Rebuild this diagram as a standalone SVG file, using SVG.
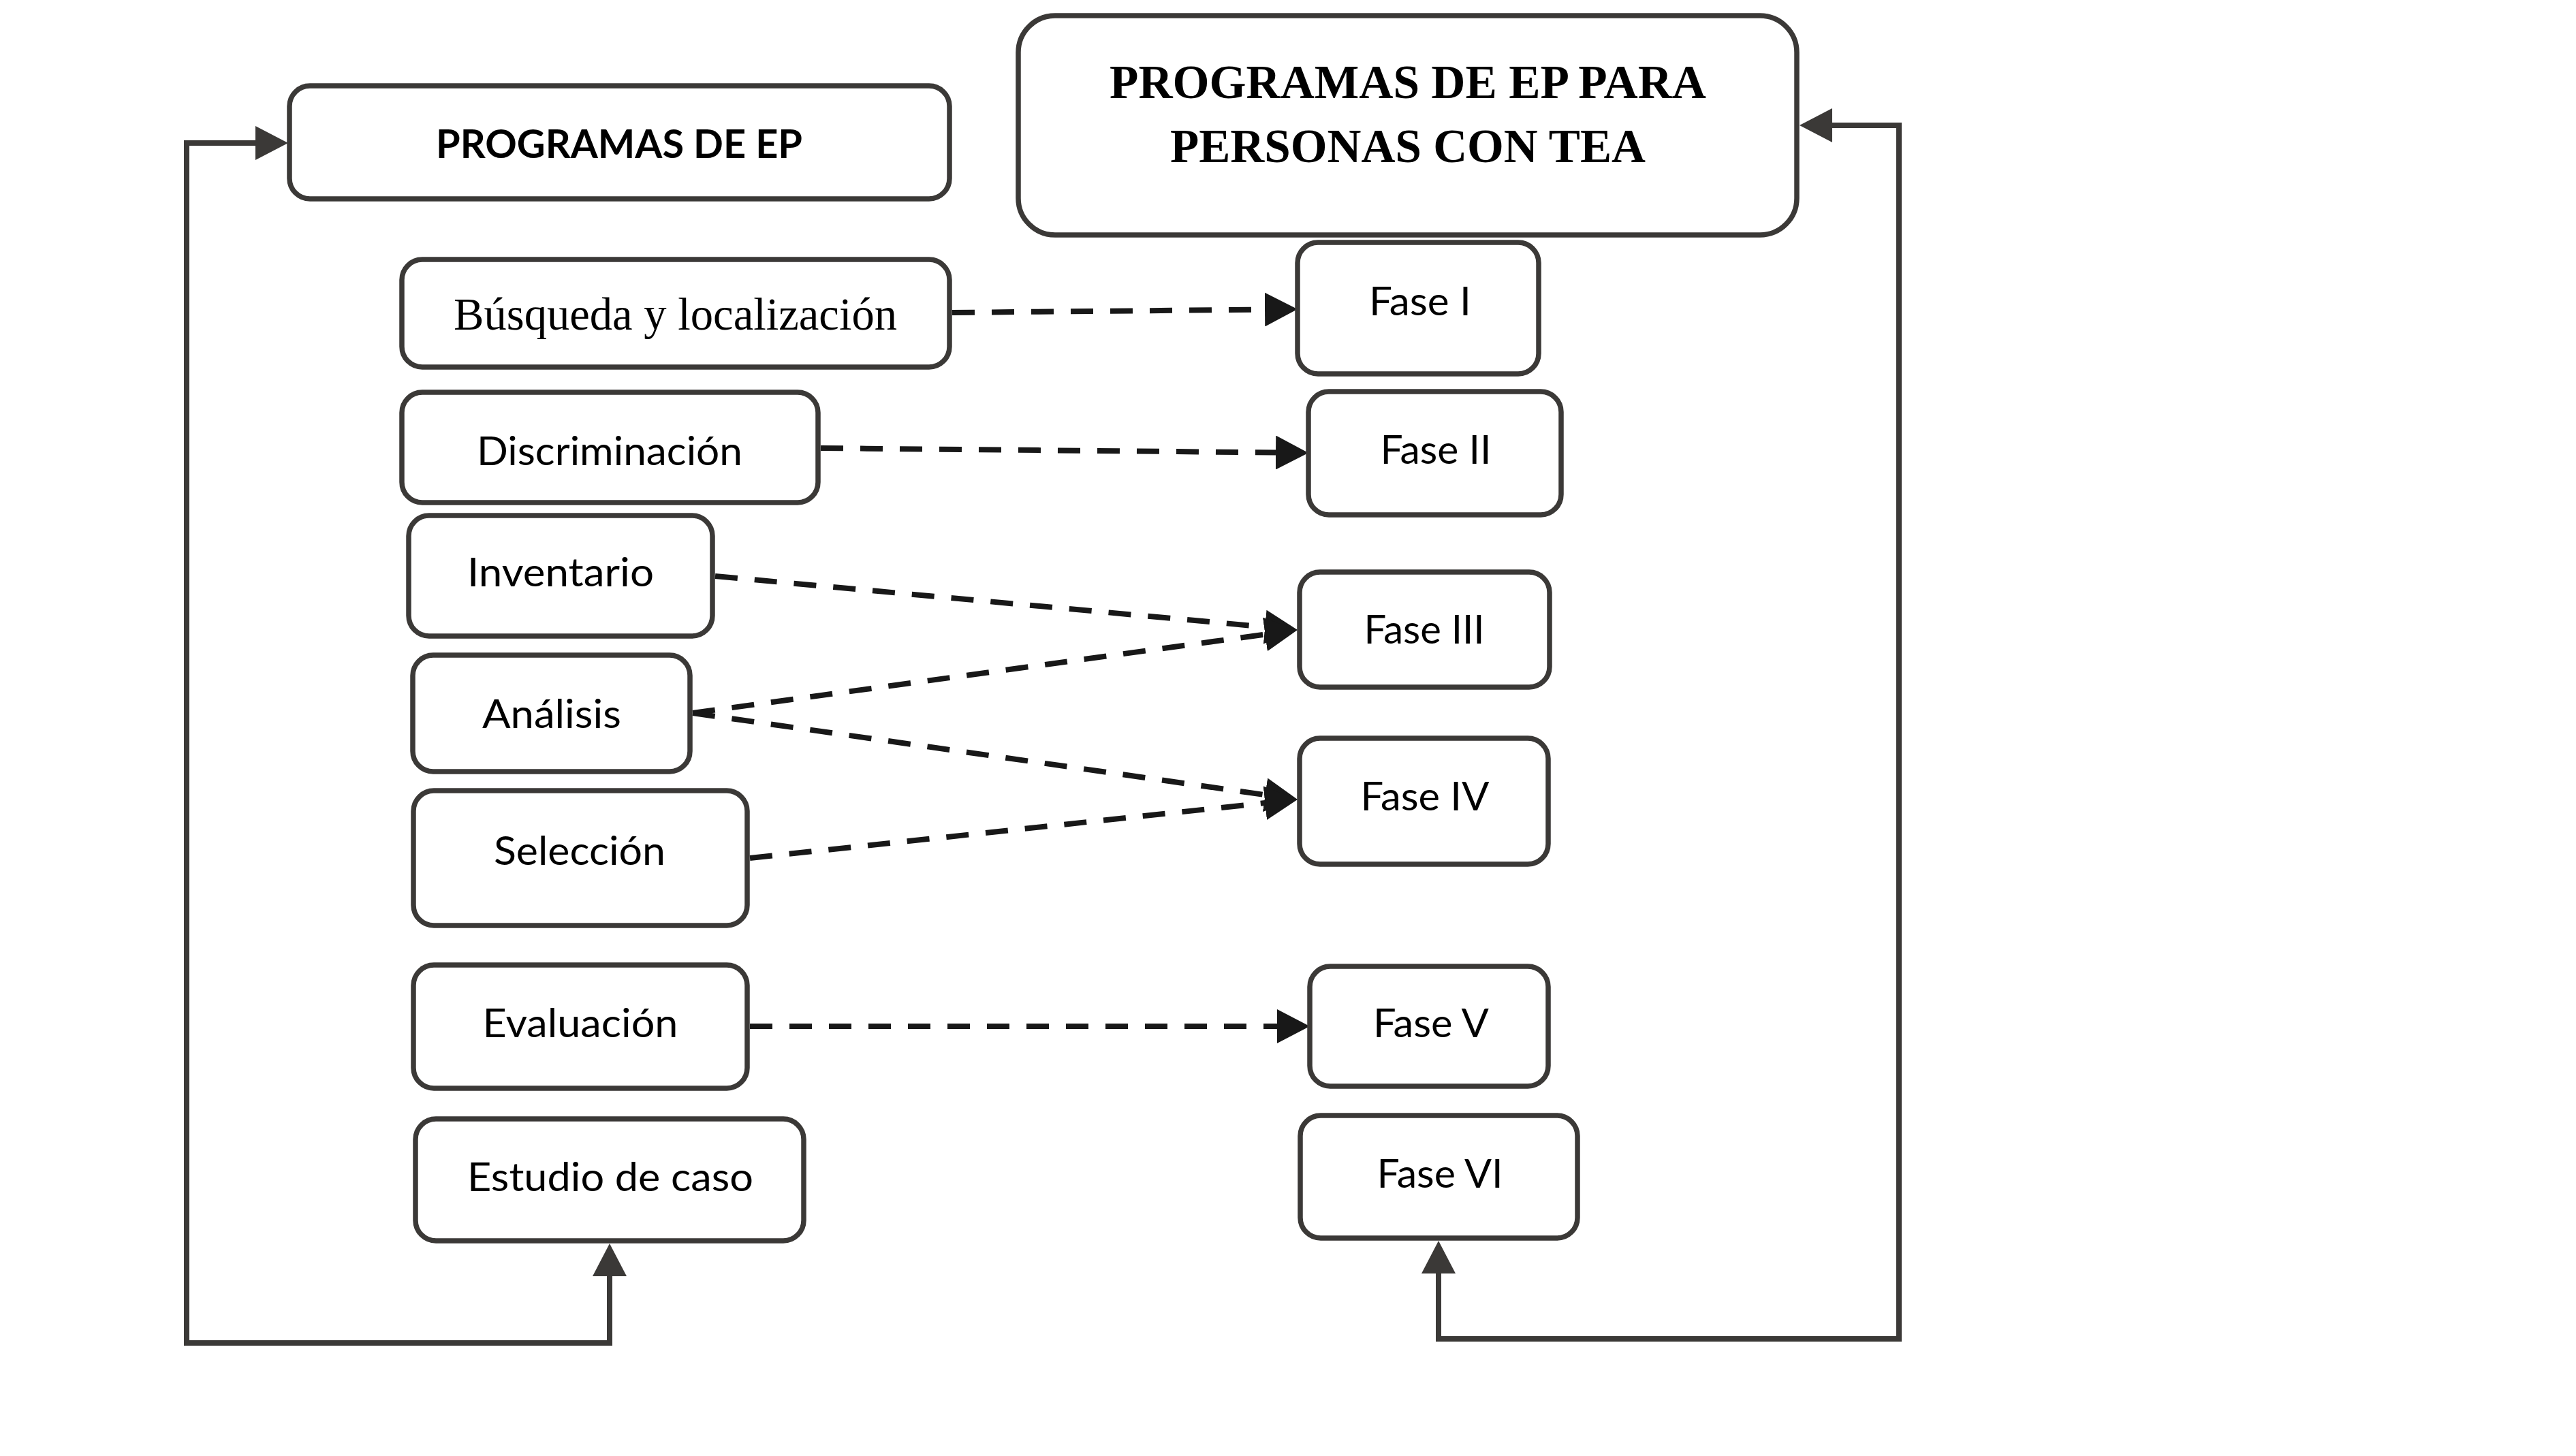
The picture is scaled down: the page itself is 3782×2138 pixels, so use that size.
<svg xmlns="http://www.w3.org/2000/svg" width="3782" height="2138" viewBox="0 0 3782 2138">
<style>
  .box { fill: #ffffff; stroke: #3b3937; stroke-width: 7.5; }
  .sans { font-family: Lato, "Open Sans", "Liberation Sans", sans-serif; font-size: 58px; fill: #000; text-anchor: middle; }
  .sansb { font-family: Lato, "Open Sans", "Liberation Sans", sans-serif; font-size: 58px; font-weight: bold; fill: #000; text-anchor: middle; }
  .serif { font-family: "Liberation Serif", "DejaVu Serif", serif; font-size: 67px; fill: #000; text-anchor: middle; }
  .serifb { font-family: "Liberation Serif", "DejaVu Serif", serif; font-size: 70px; font-weight: bold; fill: #000; text-anchor: middle; }
  .dash { fill: none; stroke: #181818; stroke-width: 8; stroke-dasharray: 33 25; marker-end: url(#arrD); }
  .loop { fill: none; stroke: #3b3937; stroke-width: 8; stroke-linejoin: miter; marker-start: url(#arrL); marker-end: url(#arrL); }
</style>
<defs>
  <marker id="arrD" markerUnits="userSpaceOnUse" viewBox="0 0 48 50" markerWidth="48" markerHeight="50" refX="0" refY="25" orient="auto">
    <path d="M0,0 L48,25 L0,50 Z" fill="#181818"/>
  </marker>
  <marker id="arrL" markerUnits="userSpaceOnUse" viewBox="0 0 48 50" markerWidth="48" markerHeight="50" refX="0" refY="25" orient="auto-start-reverse">
    <path d="M0,0 L48,25 L0,50 Z" fill="#3b3937"/>
  </marker>
</defs>
<rect width="3782" height="2138" fill="#ffffff"/>

<g id="connectors">
  <path class="loop" d="M375,210 L274,210 L274,1972 L895,1972 L895,1874"/>
  <path class="loop" d="M2690,184 L2788,184 L2788,1966 L2112,1966 L2112,1870"/>
  <path class="dash" d="M1398,459 L1857,454.5"/>
  <path class="dash" d="M1205,658 L1873,664.5"/>
  <path class="dash" d="M1050,846 L1857.2,920.6"/>
  <path class="dash" d="M1017,1047 L1857.4,931.5"/>
  <path class="dash" d="M1017,1047 L1857.5,1167.2"/>
  <path class="dash" d="M1101,1260 L1857.3,1179.1"/>
  <path class="dash" d="M1101,1507 L1875,1507"/>
</g>

<g id="programas-ep">
  <rect class="box" x="425" y="126" width="969" height="166" rx="30"/>
  <text class="sansb" x="909" y="232" textLength="538" lengthAdjust="spacingAndGlyphs">PROGRAMAS DE EP</text>
</g>
<g id="programas-tea">
  <rect class="box" x="1495" y="23" width="1143" height="322" rx="54"/>
  <text class="serifb" x="2067" y="144" textLength="876" lengthAdjust="spacingAndGlyphs">PROGRAMAS DE EP PARA</text>
  <text class="serifb" x="2067" y="238" textLength="698" lengthAdjust="spacingAndGlyphs">PERSONAS CON TEA</text>
</g>
<g id="busqueda">
  <rect class="box" x="590" y="381" width="804" height="158" rx="30"/>
  <text class="serif" x="991.5" y="484" textLength="651" lengthAdjust="spacingAndGlyphs">Búsqueda y localización</text>
</g>
<g id="discriminacion">
  <rect class="box" x="590" y="576" width="611" height="162" rx="30"/>
  <text class="sans" x="895" y="683" textLength="390" lengthAdjust="spacingAndGlyphs">Discriminación</text>
</g>
<g id="inventario">
  <rect class="box" x="600" y="757" width="446" height="177" rx="30"/>
  <text class="sans" x="823" y="861" textLength="274" lengthAdjust="spacingAndGlyphs">Inventario</text>
</g>
<g id="analisis">
  <rect class="box" x="606" y="962" width="407" height="171" rx="30"/>
  <text class="sans" x="810" y="1069" textLength="204" lengthAdjust="spacingAndGlyphs">Análisis</text>
</g>
<g id="seleccion">
  <rect class="box" x="607" y="1161" width="490" height="198" rx="30"/>
  <text class="sans" x="851" y="1270" textLength="252" lengthAdjust="spacingAndGlyphs">Selección</text>
</g>
<g id="evaluacion">
  <rect class="box" x="607" y="1417" width="490" height="181" rx="30"/>
  <text class="sans" x="852" y="1523" textLength="287" lengthAdjust="spacingAndGlyphs">Evaluación</text>
</g>
<g id="estudio">
  <rect class="box" x="610" y="1643" width="570" height="179" rx="30"/>
  <text class="sans" x="896" y="1749" textLength="420" lengthAdjust="spacingAndGlyphs">Estudio de caso</text>
</g>
<g id="fase1">
  <rect class="box" x="1905" y="356" width="354" height="193" rx="30"/>
  <text class="sans" x="2085" y="463" textLength="150" lengthAdjust="spacingAndGlyphs">Fase I</text>
</g>
<g id="fase2">
  <rect class="box" x="1921" y="575" width="371" height="181" rx="30"/>
  <text class="sans" x="2108" y="681" textLength="163" lengthAdjust="spacingAndGlyphs">Fase II</text>
</g>
<g id="fase3">
  <rect class="box" x="1908" y="840" width="367" height="169" rx="30"/>
  <text class="sans" x="2091" y="945" textLength="177" lengthAdjust="spacingAndGlyphs">Fase III</text>
</g>
<g id="fase4">
  <rect class="box" x="1908" y="1084" width="365" height="185" rx="30"/>
  <text class="sans" x="2092" y="1190" textLength="189" lengthAdjust="spacingAndGlyphs">Fase IV</text>
</g>
<g id="fase5">
  <rect class="box" x="1923" y="1419" width="350" height="176" rx="30"/>
  <text class="sans" x="2101" y="1523" textLength="170" lengthAdjust="spacingAndGlyphs">Fase V</text>
</g>
<g id="fase6">
  <rect class="box" x="1909" y="1638" width="407" height="180" rx="30"/>
  <text class="sans" x="2114" y="1744" textLength="185" lengthAdjust="spacingAndGlyphs">Fase VI</text>
</g>
</svg>
